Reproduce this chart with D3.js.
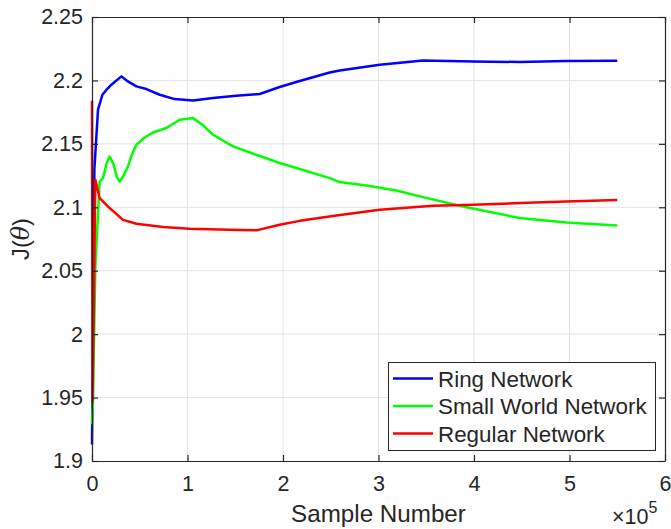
<!DOCTYPE html>
<html>
<head>
<meta charset="utf-8">
<script src="https://cdn.jsdelivr.net/npm/d3@7"></script>
<style>
  html, body { margin: 0; padding: 0; background: #fff; }
  svg { display: block; }
  text { font-family: "Liberation Sans", Arial, Helvetica, sans-serif; fill: #262626; }
</style>
</head>
<body>
<script>
// ---- data ----
const ringX = [0, 2500, 6300, 10900, 15000, 20300, 30800, 38000, 46500, 57000, 70900, 86600, 105800, 126700, 151000, 175600, 196500, 217500, 248900, 259400, 301300, 346600, 399000, 447900, 496700, 550000];
const ringY = [1.913, 2.13, 2.177, 2.1887, 2.1925, 2.1966, 2.2032, 2.199, 2.1953, 2.1932, 2.1887, 2.1853, 2.1842, 2.1861, 2.188, 2.1893, 2.1948, 2.1995, 2.2063, 2.2079, 2.2124, 2.2158, 2.215, 2.2145, 2.2153, 2.2155];

const smallX = [0, 1000, 3500, 8000, 11500, 15500, 18500, 22000, 26000, 29000, 33000, 37700, 42000, 46500, 55000, 63900, 77900, 91800, 105800, 115000, 126700, 147600, 172000, 196500, 217500, 248900, 259400, 287300, 318700, 346600, 388500, 447900, 496700, 550000];
const smallY = [1.929, 1.947, 2.0533, 2.1203, 2.123, 2.135, 2.14, 2.135, 2.124, 2.1203, 2.125, 2.1322, 2.142, 2.1493, 2.155, 2.159, 2.1625, 2.169, 2.1703, 2.1655, 2.1572, 2.148, 2.1414, 2.1349, 2.1302, 2.123, 2.1199, 2.1172, 2.1133, 2.108, 2.1006, 2.0915, 2.088, 2.0856];

const regX = [0, 600, 3500, 8000, 18500, 32500, 46500, 74400, 102300, 144100, 172000, 196500, 217500, 255900, 301300, 357000, 399000, 447900, 496700, 550000];
const regY = [2.184, 1.947, 2.1217, 2.1073, 2.0994, 2.0901, 2.087, 2.0844, 2.083, 2.0823, 2.0818, 2.0862, 2.0893, 2.0935, 2.098, 2.1012, 2.102, 2.1033, 2.1046, 2.1057];

const seriesNames = ["Ring Network", "Small World Network", "Regular Network"];
const seriesColors = ["#0000ff", "#00ff00", "#ff0000"];

const xTicks = [0, 100000, 200000, 300000, 400000, 500000, 600000];
const xTickLabels = ["0", "1", "2", "3", "4", "5", "6"];
const yTicks = [1.9, 1.95, 2.0, 2.05, 2.1, 2.15, 2.2, 2.25];
const yTickLabels = ["1.9", "1.95", "2", "2.05", "2.1", "2.15", "2.2", "2.25"];

// ---- layout ----
const W = 671, H = 529;
const L = 92, R = 665, T = 17, B = 461;
const axisColor = "#262626";

const svg = d3.select("body").append("svg").attr("width", W).attr("height", H);

const x = d3.scaleLinear().domain([0, 600000]).range([L, R]);
const y = d3.scaleLinear().domain([1.9, 2.25]).range([B, T]);

// grid
const grid = svg.append("g");
grid.selectAll(".gx").data(xTicks.slice(1, -1)).join("line")
  .attr("x1", d => x(d)).attr("x2", d => x(d)).attr("y1", T).attr("y2", B)
  .attr("stroke", "#e3e3e3").attr("stroke-width", 1);
grid.selectAll(".gy").data(yTicks.slice(1, -1)).join("line")
  .attr("y1", d => y(d)).attr("y2", d => y(d)).attr("x1", L).attr("x2", R)
  .attr("stroke", "#e3e3e3").attr("stroke-width", 1);

// lines
const series = [
  { xs: ringX, ys: ringY },
  { xs: smallX, ys: smallY },
  { xs: regX, ys: regY }
];
const line = d3.line().x(d => x(d[0])).y(d => y(d[1]));
series.forEach((s, i) => {
  const pts = s.xs.map((v, j) => [v, s.ys[j]]);
  svg.append("path").datum(pts)
    .attr("d", line)
    .attr("fill", "none")
    .attr("stroke", seriesColors[i])
    .attr("stroke-width", 2.5)
    .attr("stroke-linejoin", "round");
});

// axes
const tl = 6;
const fmtX = (d, i) => xTickLabels[i];
const fmtY = (d, i) => yTickLabels[i];

const xAxisB = svg.append("g").attr("transform", `translate(0,${B})`)
  .call(d3.axisBottom(x).tickValues(xTicks).tickFormat(fmtX).tickSizeInner(-tl).tickSizeOuter(0).tickPadding(15));
const xAxisT = svg.append("g").attr("transform", `translate(0,${T})`)
  .call(d3.axisTop(x).tickValues(xTicks).tickFormat("").tickSizeInner(-tl).tickSizeOuter(0));
const yAxisL = svg.append("g").attr("transform", `translate(${L},0)`)
  .call(d3.axisLeft(y).tickValues(yTicks).tickFormat(fmtY).tickSizeInner(-tl).tickSizeOuter(0).tickPadding(15));
const yAxisR = svg.append("g").attr("transform", `translate(${R},0)`)
  .call(d3.axisRight(y).tickValues(yTicks).tickFormat("").tickSizeInner(-tl).tickSizeOuter(0));

[xAxisB, xAxisT, yAxisL, yAxisR].forEach(g => {
  g.select(".domain").attr("stroke", axisColor).attr("stroke-width", 1.2);
  g.selectAll(".tick line").attr("stroke", axisColor).attr("stroke-width", 1.2);
  g.selectAll(".tick text").attr("fill", axisColor)
    .style("font-family", "'Liberation Sans', Arial, Helvetica, sans-serif")
    .style("font-size", "21.5px");
});
xAxisB.selectAll(".tick text").attr("dy", "0.71em");
yAxisL.selectAll(".tick text").attr("x", -9);
xAxisB.selectAll(".tick text").attr("y", 15);

// axis labels
svg.append("text")
  .attr("x", (L + R) / 2).attr("y", 521.5)
  .attr("text-anchor", "middle")
  .style("font-size", "24.2px")
  .text("Sample Number");

const yl = svg.append("text")
  .attr("transform", `translate(29,${(T + B) / 2}) rotate(-90)`)
  .attr("text-anchor", "middle")
  .style("font-size", "23.7px");
yl.append("tspan").text("J(");
yl.append("tspan").style("font-family", "'DejaVu Serif', 'Liberation Serif', serif").style("font-style", "italic").text("θ");
yl.append("tspan").text(")");

// exponent label
const ex = svg.append("text").attr("x", 612).attr("y", 523.5).style("font-size", "21.5px");
ex.append("tspan").text("×10");
ex.append("tspan").attr("dy", -11).style("font-size", "16px").text("5");

// legend
const lg = svg.append("g");
lg.append("rect").attr("x", 388.5).attr("y", 362.5).attr("width", 267).attr("height", 88)
  .attr("fill", "#fff").attr("stroke", axisColor).attr("stroke-width", 1);
const rowY = [378.5, 406, 433.5];
seriesNames.forEach((n, i) => {
  lg.append("line").attr("x1", 393).attr("x2", 433).attr("y1", rowY[i]).attr("y2", rowY[i])
    .attr("stroke", seriesColors[i]).attr("stroke-width", 2.5);
  lg.append("text").attr("x", 438).attr("y", rowY[i]).attr("dy", "0.36em")
    .style("font-size", "22.4px").attr("fill", "#000").text(n);
});
</script>
</body>
</html>
